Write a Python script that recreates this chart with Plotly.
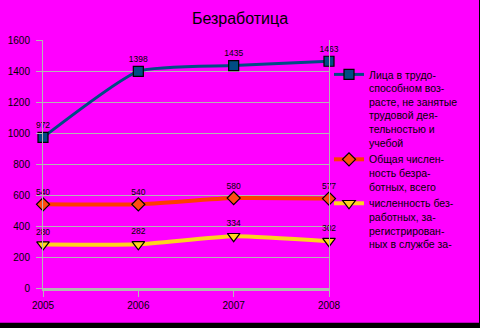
import plotly.graph_objects as go

# Years on the horizontal axis
years = [2005, 2006, 2007, 2008]

# Series values (thousand persons)
idle_working_age = [972, 1398, 1435, 1463]
unemployed_total = [540, 540, 580, 577]
unemployed_registered = [280, 282, 334, 302]

# Legend captions, wrapped as narrow multi-line blocks
name_idle = "Лица в трудо-<br>способном воз-<br>расте, не занятые<br>трудовой дея-<br>тельностью и<br>учебой"
name_total = "Общая числен-<br>ность безра-<br>ботных, всего"
name_registered = "численность без-<br>работных, за-<br>регистрирован-<br>ных в службе за-"

y_ticks = [0, 200, 400, 600, 800, 1000, 1200, 1400, 1600]

FONT = "Liberation Sans, Arial, sans-serif"
LABEL_FONT = dict(family=FONT, size=8.5, color="black")

fig = go.Figure()

fig.add_trace(go.Scatter(
    x=years, y=idle_working_age, name=name_idle,
    mode="lines+markers+text",
    line=dict(color="#004c84", width=3, shape="spline", smoothing=0.5),
    marker=dict(symbol="square", size=10, color="#004c84",
                line=dict(color="black", width=1.2)),
    text=[str(v) for v in idle_working_age], textposition="top center",
    textfont=LABEL_FONT, cliponaxis=False,
))

fig.add_trace(go.Scatter(
    x=years, y=unemployed_total, name=name_total,
    mode="lines+markers+text",
    line=dict(color="#ff3c00", width=4, shape="spline", smoothing=0.5),
    marker=dict(symbol="diamond", size=10, color="#ff4c10",
                line=dict(color="black", width=1.2)),
    text=[str(v) for v in unemployed_total], textposition="top center",
    textfont=LABEL_FONT, cliponaxis=False,
))

fig.add_trace(go.Scatter(
    x=years, y=unemployed_registered, name=name_registered,
    mode="lines+markers+text",
    line=dict(color="#ffd21e", width=4, shape="spline", smoothing=0.5),
    marker=dict(symbol="triangle-down", size=11, color="#ffd21e",
                line=dict(color="black", width=1.2)),
    text=[str(v) for v in unemployed_registered], textposition="top center",
    textfont=LABEL_FONT, cliponaxis=False,
))

fig.update_layout(
    width=480, height=328,
    margin=dict(l=43, r=151, t=40, b=40),
    paper_bgcolor="#ff00ff",
    plot_bgcolor="rgba(0,0,0,0)",
    font=dict(family=FONT, size=10, color="black"),
    title=dict(text="Безработица", x=0.5, xanchor="center", y=0.945, yanchor="middle",
               font=dict(family=FONT, size=16, color="black")),
    showlegend=True,
    legend=dict(x=1.0, xanchor="left", y=0.915, yanchor="top",
                valign="top", bgcolor="rgba(0,0,0,0)",
                font=dict(family=FONT, size=10.5, color="black"),
                itemwidth=30, tracegroupgap=4),
    xaxis=dict(
        range=[2005, 2008], tickvals=years, ticktext=[str(y) for y in years],
        showgrid=False, zeroline=False, automargin=False,
        showline=True, linecolor="#b4b4b4", linewidth=3,
        ticks="outside", ticklen=6, tickcolor="#b4b4b4", tickwidth=1,
        tickfont=dict(family=FONT, size=10, color="black"),
    ),
    yaxis=dict(
        range=[0, 1600], tickvals=y_ticks,
        showgrid=True, gridcolor="#b4b4b4", gridwidth=1,
        zeroline=False, automargin=False,
        showline=True, linecolor="#b4b4b4", linewidth=1, mirror=True,
        ticks="outside", ticklen=6, tickcolor="#b4b4b4",
        ticklabelstandoff=4,
        tickfont=dict(family=FONT, size=10, color="black"),
    ),
)

# Black frame strips along the bottom and right edges of the page
fig.add_shape(type="rect", xref="paper", yref="paper",
              x0=-0.2, x1=1.6, y0=-0.2, y1=-0.14,
              fillcolor="black", line=dict(width=0), layer="above")
fig.add_shape(type="rect", xref="paper", yref="paper",
              x0=1.5245, x1=1.6, y0=-0.2, y1=1.2,
              fillcolor="black", line=dict(width=0), layer="above")

fig.write_html("out.html")
